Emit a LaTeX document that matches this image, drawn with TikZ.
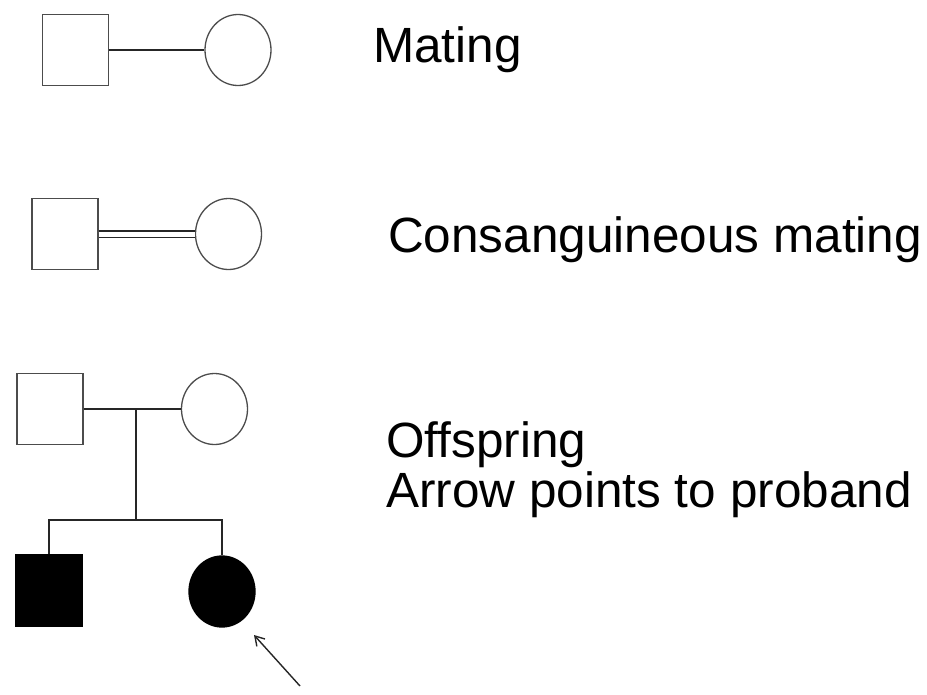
\documentclass[tikz,border=0pt]{standalone}
\usepackage{fontspec}
\setmainfont{Liberation Sans}
\usetikzlibrary{shapes.geometric,arrows.meta}
\begin{document}
\begin{tikzpicture}[x=1pt,y=-1pt,
  male/.style={draw=black!70,line width=1.3pt,rectangle,minimum width=66pt,minimum height=71pt,inner sep=0pt},
  female/.style={draw=black!70,line width=1.3pt,ellipse,minimum width=66pt,minimum height=71pt,inner sep=0pt},
  affected/.style={fill=black,draw=black},
  link/.style={draw=black!85,line width=1.6pt},
  label/.style={anchor=base west,font=\fontsize{49.5pt}{50pt}\selectfont,inner sep=0pt}]
\useasboundingbox (0,0) rectangle (927,694);
% Row 1: mating
\node[male] (m1) at (75.5,50) {};
\node[female] (f1) at (238,50) {};
\draw[link] (m1.east) -- (f1.west);
\node[label] (t1) at (373,62) {Mating};
% Row 2: consanguineous mating
\node[male] (m2) at (65,234) {};
\node[female] (f2) at (228.5,234) {};
\draw[link,line width=1.3pt,double=white,double distance=5pt] (m2.east) -- (f2.west);
\node[label] (t2) at (388,252) {Consanguineous mating};
% Row 3: offspring
\node[male] (m3) at (50,409) {};
\node[female] (f3) at (214.5,409) {};
\draw[link] (m3.east) -- (f3.west);
\coordinate (mid) at (136,409);
\coordinate (sib) at (136,520);
\node[male,affected] (s1) at (49,590.5) {};
\node[female,affected] (d1) at (222,591.5) {};
\draw[link] (mid) -- (sib);
\draw[link] (s1.north) |- (sib) -| (d1.north);
\coordinate (tail) at (300,686);
\draw[link,line width=1.4pt,-{Straight Barb[length=9pt,width=11pt]}] (tail) -- (254,635);
\node[label] (t3) at (386,457) {Offspring};
\node[label] (t4) at (386,507) {Arrow points to proband};
\end{tikzpicture}
\end{document}
